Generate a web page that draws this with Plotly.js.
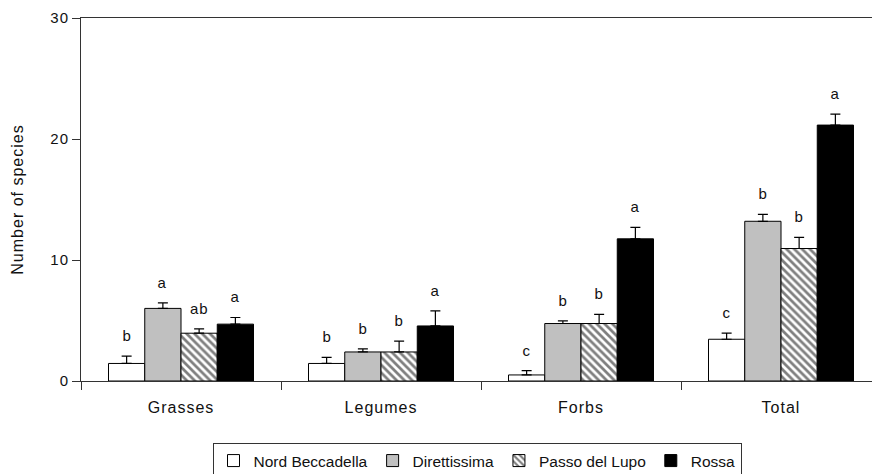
<!DOCTYPE html>
<html>
<head>
<meta charset="utf-8">
<script src="https://cdn.plot.ly/plotly-3.0.1.min.js"></script>
<style>html,body{margin:0;padding:0;background:#fff;}#chart{width:872px;height:474px;}#chart text{letter-spacing:1px;}#chart .legend text{letter-spacing:0;}</style>
</head>
<body>
<div id="chart"></div>
<script>
const categories = ["Grasses", "Legumes", "Forbs", "Total"];
const seriesNames = ["Nord Beccadella", "Direttissima", "Passo del Lupo", "Rossa"];
const nordBeccadella = [1.45, 1.45, 0.5, 3.45];
const nordBeccadellaErr = [0.6, 0.5, 0.35, 0.5];
const direttissima = [6.0, 2.4, 4.75, 13.2];
const direttissimaErr = [0.45, 0.25, 0.22, 0.57];
const passoDelLupo = [3.95, 2.4, 4.75, 10.95];
const passoDelLupoErr = [0.35, 0.9, 0.75, 0.92];
const rossa = [4.7, 4.55, 11.75, 21.15];
const rossaErr = [0.55, 1.25, 0.95, 0.9];
const letters = [
  ["b", "b", "c", "c"],
  ["a", "b", "b", "b"],
  ["ab", "b", "b", "b"],
  ["a", "a", "a", "a"]
];
const yTicks = [0, 10, 20, 30];

const values = [nordBeccadella, direttissima, passoDelLupo, rossa];
const errs = [nordBeccadellaErr, direttissimaErr, passoDelLupoErr, rossaErr];
const styles = [
  {color: "#ffffff"},
  {color: "#c0c0c0"},
  {color: "#ffffff", pattern: {shape: "\\", fgcolor: "#000000", bgcolor: "#ffffff", size: 5.5, solidity: 0.5, fillmode: "overlay"}},
  {color: "#000000"}
];
const FONT = "Liberation Sans, Arial, sans-serif";
const BARGAP = 0.275;

const traces = values.map((v, s) => ({
  type: "bar",
  name: seriesNames[s],
  x: categories,
  y: v,
  marker: Object.assign({line: {color: "#000000", width: 1}}, styles[s]),
  error_y: {type: "data", array: errs[s], arrayminus: v.map(() => 0), symmetric: false,
            color: "#000000", thickness: 1.2, width: 5},
  hoverinfo: "none"
}));

const barW = (1 - BARGAP) / values.length;
const annotations = [];
values.forEach((v, s) => {
  v.forEach((val, i) => {
    annotations.push({
      x: i + (s - (values.length - 1) / 2) * barW,
      y: val + errs[s][i],
      xref: "x", yref: "y",
      text: letters[s][i],
      showarrow: false,
      yanchor: "bottom",
      yshift: 10,
      font: {family: FONT, size: 15, color: "#111111"}
    });
  });
});

const layout = {
  width: 872, height: 474,
  margin: {l: 81, r: 0, t: 18, b: 93},
  paper_bgcolor: "#ffffff", plot_bgcolor: "#ffffff",
  barmode: "group", bargap: BARGAP, bargroupgap: 0,
  showlegend: true,
  font: {family: FONT, size: 14, color: "#111111"},
  xaxis: {
    type: "category",
    range: [-0.5, 3.455],
    tickson: "boundaries",
    ticks: "outside", ticklen: 8, tickwidth: 1, tickcolor: "#333333",
    showline: true, linecolor: "#333333", linewidth: 1, mirror: true,
    showgrid: false, zeroline: false,
    ticklabelstandoff: 12,
    tickfont: {family: FONT, size: 16, color: "#111111"}
  },
  yaxis: {
    range: [0, 30],
    tickvals: yTicks,
    ticktext: yTicks.map(String),
    ticks: "outside", ticklen: 8, tickwidth: 1, tickcolor: "#333333",
    showline: true, linecolor: "#333333", linewidth: 1,
    showgrid: false, zeroline: false,
    tickfont: {family: FONT, size: 15, color: "#111111"},
    title: {text: "Number of species", font: {family: FONT, size: 16, color: "#111111"}, standoff: 24}
  },
  legend: {
    orientation: "h",
    xref: "container", yref: "container",
    x: 477 / 872, xanchor: "center",
    y: 1 - 443 / 474, yanchor: "top",
    bordercolor: "#333333", borderwidth: 1, bgcolor: "#ffffff",
    font: {family: FONT, size: 15.5, color: "#111111"},
    itemwidth: 30, traceorder: "normal"
  },
  annotations: annotations
};

Plotly.newPlot("chart", traces, layout, {staticPlot: true, displayModeBar: false});
</script>
</body>
</html>
